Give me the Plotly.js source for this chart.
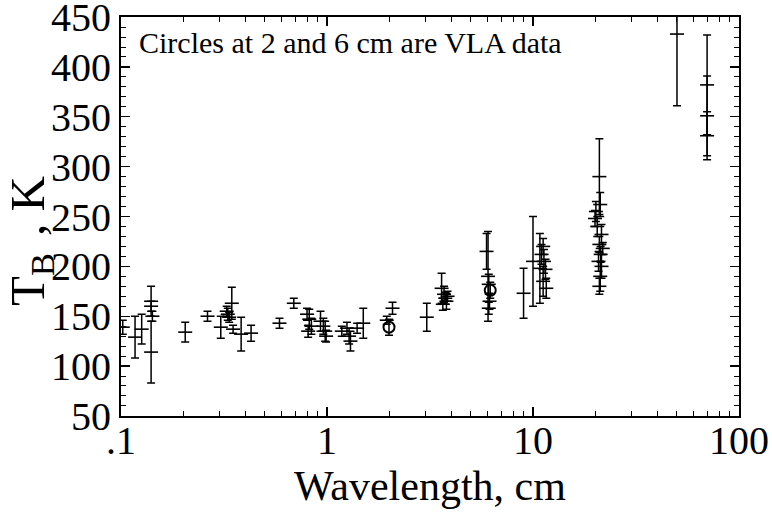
<!DOCTYPE html>
<html>
<head>
<meta charset="utf-8">
<script src="https://cdn.plot.ly/plotly-3.0.1.min.js"></script>
<style>html,body{margin:0;padding:0;background:#fff;}#chart{width:772px;height:514px;}</style>
</head>
<body>
<div id="chart"></div>
<script>
// Brightness temperature measurements (wavelength in cm, T_B in K, error in K)
var wavelength = [0.102,0.117,0.126,0.14,0.14,0.142,0.14,0.205,0.263,0.305,0.326,0.33,0.335,0.345,0.35,0.383,0.428,0.588,0.69,
  0.80,0.82,0.84,0.81,0.93,0.96,0.98,0.99,1.18,1.25,1.28,1.30,1.40,1.50,1.95,2.08,3.05,
  3.6,3.7,3.75,3.8,3.65,3.85,5.95,6.05,6.1,6.15,6.1,9.0,10.0,
  10.8,11.0,11.2,11.3,11.5,11.2,11.6,
  21.0,21.2,20.2,20.0,20.5,21.5,21.0,21.8,21.3,20.8,21.5,21.2,21.0,
  50,70,70,70];
var tb = [139,129,137,165,160,150,114,134,150,139,155,152,149,163,137,132,133,143,163,
  152,147,140,135,145,140,135,130,135,138,130,125,138,143,146,158,149,
  178,172,168,165,162,170,215,190,182,165,158,173,205,
  198,212,220,205,197,185,178,
  290,262,255,248,240,232,222,218,212,205,200,190,180,
  433,382,351,331];
var tbErr = [7,21,15,15,5,5,31,10,5,11,5,6,5,16,4,17,8,5,5,
  6,10,8,6,10,8,10,6,5,6,8,10,5,15,4,6,14,
  15,8,6,8,6,5,18,45,10,8,6,25,45,
  35,10,8,12,10,15,10,
  38,12,10,8,10,10,8,6,8,10,12,15,8,
  72,50,40,24];
// VLA data (open circles)
var vlaWavelength = [2.0, 6.2];
var vlaTb = [139, 176];
var vlaErr = [8, 8];

var xTickVals = [0.1, 1, 10, 100];
var xTickText = ['.1', '1', '10', '100'];
var xMinorVals = [0.2,0.3,0.4,0.5,0.6,0.7,0.8,0.9,2,3,4,5,6,7,8,9,20,30,40,50,60,70,80,90];
var yTickVals = [50,100,150,200,250,300,350,400,450];

var serif = '"Liberation Serif", "Times New Roman", "DejaVu Serif", serif';

var traces = [
  {
    x: wavelength, y: tb, type: 'scatter', mode: 'markers',
    marker: {symbol: 'line-ew-open', size: 10, color: '#000', line: {color: '#000', width: 1.6}},
    error_y: {type: 'data', array: tbErr, visible: true, color: '#000', thickness: 1.5, width: 4},
    cliponaxis: true, showlegend: false
  },
  {
    x: vlaWavelength, y: vlaTb, type: 'scatter', mode: 'markers',
    marker: {symbol: 'circle-open', size: 11, color: '#000', line: {color: '#000', width: 2}},
    error_y: {type: 'data', array: vlaErr, visible: true, color: '#000', thickness: 1.5, width: 4},
    cliponaxis: true, showlegend: false
  }
];

var layout = {
  width: 772, height: 514,
  margin: {l: 121, r: 33, t: 17, b: 98},
  paper_bgcolor: '#fff', plot_bgcolor: '#fff',
  font: {family: serif, color: '#000'},
  xaxis: {
    type: 'log', range: [-1, 2],
    tickmode: 'array', tickvals: xTickVals, ticktext: xTickText,
    ticks: 'inside', ticklen: 9, tickwidth: 1.3, tickcolor: '#000',
    ticklabelstandoff: -12, ticklabeloverflow: 'allow',
    minor: {tickmode: 'array', tickvals: xMinorVals, ticks: 'inside', ticklen: 5, tickwidth: 1, tickcolor: '#000', showgrid: false},
    showline: true, linecolor: '#000', linewidth: 2, mirror: 'allticks',
    showgrid: false, zeroline: false,
    tickfont: {family: serif, size: 40, color: '#000'},
    title: {text: 'Wavelength, cm', font: {family: serif, size: 42, color: '#000'}, standoff: 0}
  },
  yaxis: {
    range: [49.9, 450.1],
    tickmode: 'array', tickvals: yTickVals,
    ticks: 'inside', ticklen: 9, tickwidth: 1.3, tickcolor: '#000',
    ticklabeloverflow: 'allow',
    minor: {dtick: 10, tick0: 50, ticks: 'inside', ticklen: 5, tickwidth: 1, tickcolor: '#000', showgrid: false},
    showline: true, linecolor: '#000', linewidth: 2, mirror: 'allticks',
    showgrid: false, zeroline: false,
    tickfont: {family: serif, size: 40, color: '#000'},
    title: {text: 'T<sub>B&nbsp;&nbsp;</sub>,&nbsp;K&nbsp;&nbsp;&nbsp;&nbsp;', font: {family: serif, size: 49, color: '#000'}, standoff: 2}
  },
  annotations: [{
    xref: 'paper', yref: 'paper', x: 0.026, y: 0.935, xanchor: 'left', yanchor: 'middle',
    text: 'Circles at 2 and 6 cm are VLA data', showarrow: false,
    font: {family: serif, size: 30, color: '#000'}
  }]
};

Plotly.newPlot('chart', traces, layout, {displayModeBar: false, staticPlot: true});
</script>
</body>
</html>
